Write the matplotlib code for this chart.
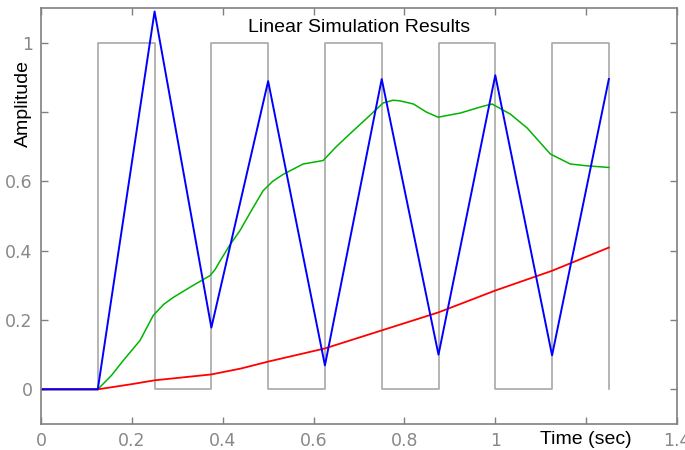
import matplotlib
matplotlib.use("Agg")
import matplotlib.pyplot as plt
import numpy as np

plt.rcParams['font.family'] = ['Liberation Sans', 'DejaVu Sans']

# Square-wave input (step corners)
square_t = [0.0, 0.125, 0.125, 0.25, 0.25, 0.375, 0.375, 0.5, 0.5, 0.625, 0.625,
            0.75, 0.75, 0.875, 0.875, 1.0, 1.0, 1.125, 1.125, 1.25, 1.25]
square_y = [0, 0, 1, 1, 0, 0, 1, 1, 0, 0, 1, 1, 0, 0, 1, 1, 0, 0, 1, 1, 0]

# Fast response (blue)
blue_t = [0.0, 0.125, 0.25, 0.375, 0.5, 0.625, 0.75, 0.875, 1.0, 1.125, 1.25]
blue_y = [0.0, 0.0, 1.09, 0.178, 0.889, 0.069, 0.895, 0.10, 0.906, 0.098, 0.895]

# Medium response (green)
green_t = [0.0, 0.125, 0.155, 0.181, 0.218, 0.247, 0.27, 0.291, 0.335, 0.372,
           0.383, 0.394, 0.415, 0.438, 0.465, 0.489, 0.51, 0.533, 0.577, 0.621,
           0.65, 0.68, 0.718, 0.753, 0.775, 0.791, 0.82, 0.848, 0.874,
           0.923, 0.974, 0.993, 1.033, 1.07, 1.1, 1.121, 1.165, 1.2, 1.25]
green_y = [0.0, 0.0, 0.04, 0.083, 0.141, 0.213, 0.245, 0.265, 0.30, 0.328,
           0.345, 0.37, 0.415, 0.458, 0.52, 0.573, 0.60, 0.62, 0.65, 0.66,
           0.70, 0.737, 0.783, 0.826, 0.834, 0.832, 0.823, 0.80, 0.785,
           0.797, 0.817, 0.823, 0.794, 0.754, 0.71, 0.679, 0.65, 0.645, 0.64]

# Slow response (red)
red_t = [0.0, 0.125, 0.2, 0.25, 0.375, 0.44, 0.5, 0.625, 0.75, 0.875, 1.0, 1.125, 1.25]
red_y = [0.0, 0.0, 0.015, 0.026, 0.043, 0.06, 0.08, 0.118, 0.17, 0.222, 0.285, 0.342, 0.409]

x_ticks = [0, 0.2, 0.4, 0.6, 0.8, 1.0, 1.2, 1.4]
x_tick_labels = ['0', '0.2', '0.4', '0.6', '0.8', '1', '', '1.4']
y_ticks = [0, 0.2, 0.4, 0.6, 0.8, 1.0]
y_tick_labels = ['0', '0.2', '0.4', '0.6', '', '1']

fig = plt.figure(figsize=(6.85, 4.5), dpi=100)
ax = fig.add_axes([41/685, 26/450, 636/685, 416/450])

ax.plot(square_t, square_y, color='#a8a8a8', lw=1.2)
ax.plot(green_t, green_y, color='#00b400', lw=1.1)
ax.plot(red_t, red_y, color='#ff0000', lw=1.3)
ax.plot(blue_t, blue_y, color='#0000ff', lw=1.4)

ax.set_xlim(0, 1.4)
ax.set_ylim(-0.1, 1.1)
ax.set_xticks(x_ticks)
ax.set_xticklabels(x_tick_labels)
ax.set_yticks(y_ticks)
ax.set_yticklabels(y_tick_labels)

ax.tick_params(direction='in', top=True, right=True, length=5, width=1,
               color='#808080', labelcolor='#888888', labelsize=12.5, pad=6)
for lbl in ax.get_xticklabels() + ax.get_yticklabels():
    lbl.set_family('DejaVu Sans')
for s in ax.spines.values():
    s.set_color('#808080')
    s.set_linewidth(1.2)

ax.text(0.5, 0.952, 'Linear Simulation Results', transform=ax.transAxes,
        ha='center', va='center', fontsize=14, color='black')
ax.text(1.2, -0.1455, 'Time (sec)', ha='center', va='center', fontsize=14,
        color='black', transform=ax.transData, clip_on=False)
fig.text(23/685, 1 - 104/450, 'Amplitude', rotation=90, ha='center', va='center',
         fontsize=14, color='black')

fig.savefig('out.png', dpi=100)
